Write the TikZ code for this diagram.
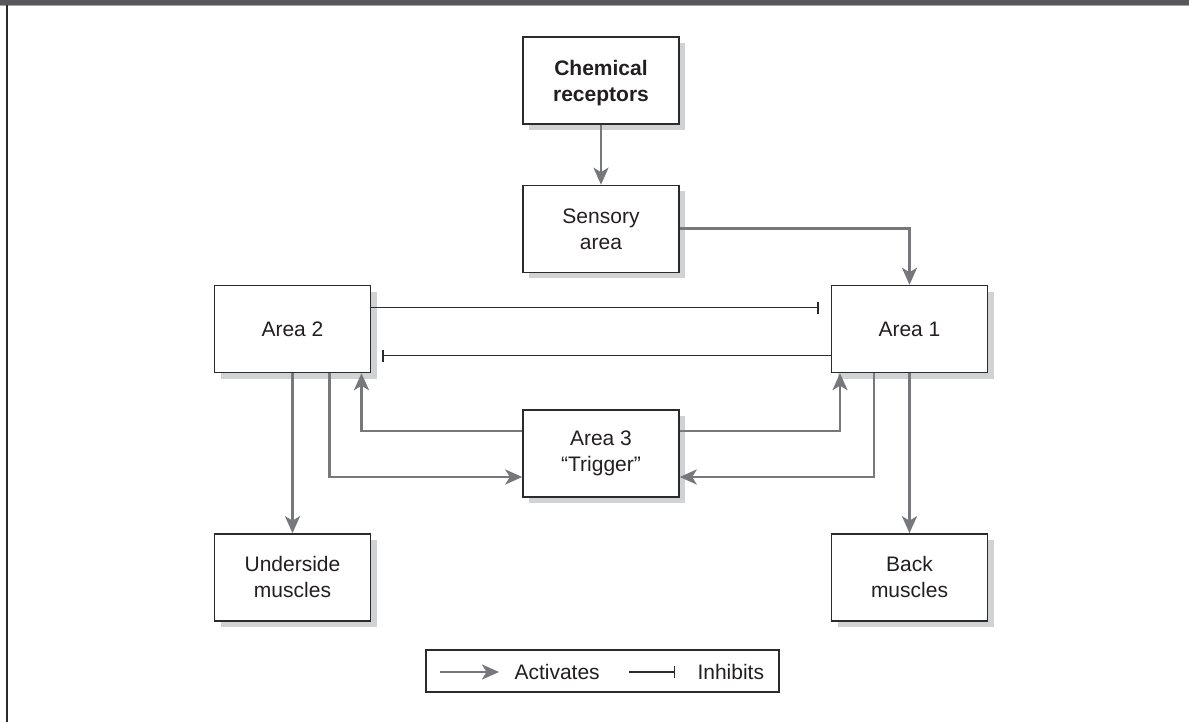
\documentclass[tikz,border=0pt]{standalone}
\usepackage{fontspec}
\setmainfont{Liberation Sans}
\usetikzlibrary{arrows.meta,positioning,shadows}
\definecolor{Ink}{HTML}{231F20}
\definecolor{Frame}{HTML}{2B2B2B}
\definecolor{Wire}{HTML}{77787B}
\definecolor{Shade}{HTML}{D1D2D4}
\definecolor{TopBar}{HTML}{58585A}
\definecolor{TopEdge}{HTML}{A4A5A7}
\tikzset{
  box/.style={draw=Frame,fill=white,line width=1.4pt,minimum width=156pt,minimum height=87pt,align=center,font=\fontsize{21}{26}\selectfont,text=Ink,drop shadow={shadow xshift=6pt,shadow yshift=-6pt,fill=Shade,opacity=1}},
  keybox/.style={draw=Frame,fill=white,line width=1.4pt,minimum width=353pt,minimum height=42pt},
  lbl/.style={font=\fontsize{21}{26}\selectfont,text=Ink,anchor=west},
  arr/.style={-{Stealth[length=17pt,width=15pt,inset=4.5pt]},draw=Wire,line width=2.8pt},
  inh/.style={-{Bar[width=12pt,line width=1.4pt]},draw=Frame,line width=1.3pt}
}

\begin{document}
\begin{tikzpicture}[x=1pt,y=-1pt,node distance=60pt]
  \useasboundingbox (0,0) rectangle (1189,722);
  % page frame
  \fill[TopBar] (0,0) rectangle (1189,5);
  \draw[TopEdge,line width=1pt] (0,5.5) -- (1189,5.5);
  \draw[Frame,line width=2pt] (6.5,5) -- (6.5,722);

  \node[box,font=\fontsize{21}{26}\selectfont\bfseries] (chem) at (601,80.5) {\rule{0pt}{21pt}Chemical\\receptors};
  \node[box,below=of chem] (sens) {Sensory\\area};
  \node[box] (area2) at (292.5,329) {Area 2};
  \node[box] (area1) at (909.5,329) {Area 1};
  \node[box] (area3) at (601,453.5) {Area 3\\“Trigger”};
  \node[box,below=160pt of area2] (under) {Underside\\muscles};
  \node[box,below=160pt of area1] (back) {Back\\muscles};

  \draw[arr] (chem) -- (sens);
  \draw[arr] (sens) -| (area1);
  \draw[inh,shorten >=12pt] ([yshift=21.5pt]area2.east) -- ([yshift=21.5pt]area1.west);
  \draw[inh,shorten >=11pt] ([yshift=-26.5pt]area1.west) -- ([yshift=-26.5pt]area2.east);
  \draw[arr] (area2) -- (under);
  \draw[arr] (area1) -- (back);
  \draw[arr] ([xshift=37pt]area2.south) |- ([yshift=-23.5pt]area3.west);
  \draw[arr] ([yshift=22.5pt]area3.west) -| ([xshift=69pt]area2.south);
  \draw[arr] ([yshift=22.5pt]area3.east) -| ([xshift=-69.5pt]area1.south);
  \draw[arr] ([xshift=-35.5pt]area1.south) |- ([yshift=-23.5pt]area3.east);

  % key
  \node[keybox] (key) at (602.5,671) {};
  \coordinate (actS) at (440,672);
  \node[lbl] (actL) at (511,672) {Activates};
  \draw[arr] (actS) -- ([xshift=-12pt]actL.west);
  \coordinate (inhS) at (629,672);
  \node[lbl] (inhL) at (694,672) {Inhibits};
  \draw[inh,line width=1.2pt] (inhS) -- ([xshift=-19pt]inhL.west);
\end{tikzpicture}
\end{document}
